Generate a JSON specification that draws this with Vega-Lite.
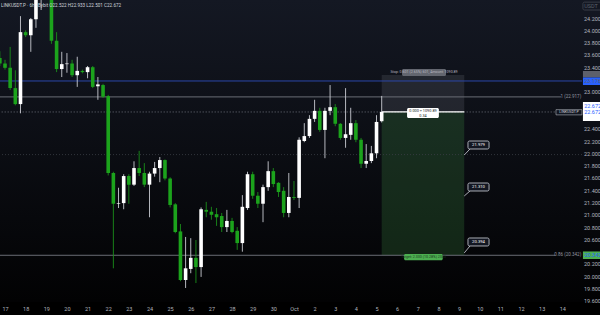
{
"$schema": "https://vega.github.io/schema/vega-lite/v6.json",
"width": 582, "height": 302,
"autosize": "none",
"padding": {"left": 0, "top": 0, "right": 18, "bottom": 13},
"background": "#000000",
"config": {"view": {"stroke": null}, "text": {"font": "Roboto"}, "axis": {"labelOverlap": false, "labelSeparation": 0}},
"datasets": {
"candles": [
{"t":"2025-09-16T18:00:00Z","o":23.55,"h":23.66,"l":23.42,"c":23.46},
{"t":"2025-09-17T00:00:00Z","o":23.46,"h":23.52,"l":23.36,"c":23.39},
{"t":"2025-09-17T06:00:00Z","o":23.39,"h":23.73,"l":23.03,"c":23.06},
{"t":"2025-09-17T12:00:00Z","o":23.06,"h":23.35,"l":22.78,"c":22.80},
{"t":"2025-09-17T18:00:00Z","o":22.80,"h":24.23,"l":22.65,"c":23.97},
{"t":"2025-09-18T00:00:00Z","o":23.97,"h":24.00,"l":23.89,"c":23.92},
{"t":"2025-09-18T06:00:00Z","o":23.92,"h":24.20,"l":23.65,"c":24.18},
{"t":"2025-09-18T12:00:00Z","o":24.18,"h":24.70,"l":24.04,"c":24.60},
{"t":"2025-09-18T18:00:00Z","o":24.60,"h":24.85,"l":24.33,"c":24.72},
{"t":"2025-09-19T00:00:00Z","o":24.72,"h":24.90,"l":24.55,"c":24.64},
{"t":"2025-09-19T06:00:00Z","o":24.64,"h":24.70,"l":23.78,"c":23.83},
{"t":"2025-09-19T12:00:00Z","o":23.83,"h":23.97,"l":23.32,"c":23.37},
{"t":"2025-09-19T18:00:00Z","o":23.37,"h":23.65,"l":23.24,"c":23.45},
{"t":"2025-09-20T00:00:00Z","o":23.45,"h":23.63,"l":23.31,"c":23.46},
{"t":"2025-09-20T06:00:00Z","o":23.46,"h":23.52,"l":23.24,"c":23.27},
{"t":"2025-09-20T12:00:00Z","o":23.27,"h":23.57,"l":23.08,"c":23.34},
{"t":"2025-09-20T18:00:00Z","o":23.34,"h":23.36,"l":23.30,"c":23.32},
{"t":"2025-09-21T00:00:00Z","o":23.32,"h":23.42,"l":23.22,"c":23.40},
{"t":"2025-09-21T06:00:00Z","o":23.40,"h":23.42,"l":23.06,"c":23.08},
{"t":"2025-09-21T12:00:00Z","o":23.09,"h":23.24,"l":22.87,"c":23.12},
{"t":"2025-09-21T18:00:00Z","o":23.11,"h":23.13,"l":22.90,"c":22.92},
{"t":"2025-09-22T00:00:00Z","o":22.93,"h":22.95,"l":21.64,"c":21.68},
{"t":"2025-09-22T06:00:00Z","o":21.68,"h":21.70,"l":20.13,"c":21.18},
{"t":"2025-09-22T12:00:00Z","o":21.18,"h":21.44,"l":21.11,"c":21.19},
{"t":"2025-09-22T18:00:00Z","o":21.19,"h":21.66,"l":21.09,"c":21.63},
{"t":"2025-09-23T00:00:00Z","o":21.63,"h":21.66,"l":21.18,"c":21.49},
{"t":"2025-09-23T06:00:00Z","o":21.49,"h":21.87,"l":21.47,"c":21.76},
{"t":"2025-09-23T12:00:00Z","o":21.76,"h":22.04,"l":21.63,"c":21.68},
{"t":"2025-09-23T18:00:00Z","o":21.68,"h":21.84,"l":21.45,"c":21.49},
{"t":"2025-09-24T00:00:00Z","o":21.49,"h":21.70,"l":20.96,"c":21.67},
{"t":"2025-09-24T06:00:00Z","o":21.67,"h":21.86,"l":21.62,"c":21.76},
{"t":"2025-09-24T12:00:00Z","o":21.76,"h":21.94,"l":21.53,"c":21.89},
{"t":"2025-09-24T18:00:00Z","o":21.89,"h":21.90,"l":21.56,"c":21.59},
{"t":"2025-09-25T00:00:00Z","o":21.59,"h":21.61,"l":21.12,"c":21.16},
{"t":"2025-09-25T06:00:00Z","o":21.17,"h":21.19,"l":20.70,"c":20.72},
{"t":"2025-09-25T12:00:00Z","o":20.73,"h":20.85,"l":19.92,"c":19.94},
{"t":"2025-09-25T18:00:00Z","o":19.94,"h":20.64,"l":19.81,"c":20.13},
{"t":"2025-09-26T00:00:00Z","o":20.12,"h":20.62,"l":20.05,"c":20.30},
{"t":"2025-09-26T06:00:00Z","o":20.30,"h":20.59,"l":19.89,"c":20.15},
{"t":"2025-09-26T12:00:00Z","o":20.15,"h":21.12,"l":19.99,"c":21.09},
{"t":"2025-09-26T18:00:00Z","o":21.08,"h":21.21,"l":20.96,"c":21.05},
{"t":"2025-09-27T00:00:00Z","o":21.05,"h":21.13,"l":20.92,"c":21.00},
{"t":"2025-09-27T06:00:00Z","o":21.01,"h":21.11,"l":20.82,"c":20.96},
{"t":"2025-09-27T12:00:00Z","o":20.98,"h":21.03,"l":20.72,"c":20.80},
{"t":"2025-09-27T18:00:00Z","o":20.80,"h":21.08,"l":20.72,"c":20.90},
{"t":"2025-09-28T00:00:00Z","o":20.90,"h":20.95,"l":20.70,"c":20.72},
{"t":"2025-09-28T06:00:00Z","o":20.74,"h":20.80,"l":20.43,"c":20.54},
{"t":"2025-09-28T12:00:00Z","o":20.54,"h":21.32,"l":20.40,"c":21.13},
{"t":"2025-09-28T18:00:00Z","o":21.11,"h":21.70,"l":21.08,"c":21.66},
{"t":"2025-09-29T00:00:00Z","o":21.66,"h":21.70,"l":21.26,"c":21.31},
{"t":"2025-09-29T06:00:00Z","o":21.31,"h":21.37,"l":21.11,"c":21.18},
{"t":"2025-09-29T12:00:00Z","o":21.18,"h":21.49,"l":20.88,"c":21.45},
{"t":"2025-09-29T18:00:00Z","o":21.45,"h":21.87,"l":21.39,"c":21.71},
{"t":"2025-09-30T00:00:00Z","o":21.71,"h":21.76,"l":21.45,"c":21.50},
{"t":"2025-09-30T06:00:00Z","o":21.52,"h":21.53,"l":21.29,"c":21.37},
{"t":"2025-09-30T12:00:00Z","o":21.39,"h":21.45,"l":20.96,"c":21.03},
{"t":"2025-09-30T18:00:00Z","o":21.03,"h":21.68,"l":20.96,"c":21.29},
{"t":"2025-10-01T00:00:00Z","o":21.29,"h":21.55,"l":21.24,"c":21.275},
{"t":"2025-10-01T06:00:00Z","o":21.275,"h":22.26,"l":21.11,"c":22.22},
{"t":"2025-10-01T12:00:00Z","o":22.20,"h":22.49,"l":22.18,"c":22.28},
{"t":"2025-10-01T18:00:00Z","o":22.28,"h":22.62,"l":22.25,"c":22.56},
{"t":"2025-10-02T00:00:00Z","o":22.56,"h":22.87,"l":22.51,"c":22.69},
{"t":"2025-10-02T06:00:00Z","o":22.69,"h":22.74,"l":22.35,"c":22.38},
{"t":"2025-10-02T12:00:00Z","o":22.38,"h":22.74,"l":21.92,"c":22.69},
{"t":"2025-10-02T18:00:00Z","o":22.69,"h":23.11,"l":22.62,"c":22.75},
{"t":"2025-10-03T00:00:00Z","o":22.75,"h":22.80,"l":22.44,"c":22.48},
{"t":"2025-10-03T06:00:00Z","o":22.48,"h":22.49,"l":22.22,"c":22.25},
{"t":"2025-10-03T12:00:00Z","o":22.25,"h":23.06,"l":22.09,"c":22.31},
{"t":"2025-10-03T18:00:00Z","o":22.30,"h":22.74,"l":22.22,"c":22.49},
{"t":"2025-10-04T00:00:00Z","o":22.49,"h":22.54,"l":22.18,"c":22.22},
{"t":"2025-10-04T06:00:00Z","o":22.22,"h":22.25,"l":21.76,"c":21.83},
{"t":"2025-10-04T12:00:00Z","o":21.83,"h":22.15,"l":21.76,"c":21.875},
{"t":"2025-10-04T18:00:00Z","o":21.875,"h":22.12,"l":21.84,"c":22.00},
{"t":"2025-10-05T00:00:00Z","o":22.00,"h":22.62,"l":21.92,"c":22.51},
{"t":"2025-10-05T06:00:00Z","o":22.522,"h":22.933,"l":22.501,"c":22.672}
]
},
"layer": [
{
"data": {"values": [{"t0": "2025-09-16T18:00:00Z", "t1": "2025-10-16T00:00:00Z", "p0": 24.4927, "p1": 19.5821}]},
"mark": {"type": "rect", "clip": false, "fill": {"gradient": "linear", "x1": 0, "y1": 0, "x2": 0, "y2": 1, "stops": [{"offset": 0, "color": "#141823"}, {"offset": 1, "color": "#020203"}]}},
"encoding": {
"x": {"field": "t0", "type": "temporal",
"scale": {"type": "utc", "nice": false, "padding": 0, "domain": [{"year": 2025, "month": 9, "date": 16, "hours": 18, "minutes": 11, "utc": true}, {"year": 2025, "month": 10, "date": 14, "hours": 22, "minutes": 55, "utc": true}]},
"axis": {"title": null, "ticks": false, "domain": false, "grid": false, "tickCount": 200, "labelFontSize": 5.5, "labelColor": "#b2b5be", "labelFont": "Roboto", "labelPadding": 6, "labelBaseline": "middle", "labelOverlap": false, "labelFlush": false,
"labelExpr": "utcdate(datum.value) == 1 ? 'Oct' : '' + utcdate(datum.value)",
"values": [
{"year":2025,"month":9,"date":17,"utc":true},{"year":2025,"month":9,"date":18,"utc":true},{"year":2025,"month":9,"date":19,"utc":true},{"year":2025,"month":9,"date":20,"utc":true},{"year":2025,"month":9,"date":21,"utc":true},{"year":2025,"month":9,"date":22,"utc":true},{"year":2025,"month":9,"date":23,"utc":true},{"year":2025,"month":9,"date":24,"utc":true},{"year":2025,"month":9,"date":25,"utc":true},{"year":2025,"month":9,"date":26,"utc":true},{"year":2025,"month":9,"date":27,"utc":true},{"year":2025,"month":9,"date":28,"utc":true},{"year":2025,"month":9,"date":29,"utc":true},{"year":2025,"month":9,"date":30,"utc":true},
{"year":2025,"month":10,"date":1,"utc":true},{"year":2025,"month":10,"date":2,"utc":true},{"year":2025,"month":10,"date":3,"utc":true},{"year":2025,"month":10,"date":4,"utc":true},{"year":2025,"month":10,"date":5,"utc":true},{"year":2025,"month":10,"date":6,"utc":true},{"year":2025,"month":10,"date":7,"utc":true},{"year":2025,"month":10,"date":8,"utc":true},{"year":2025,"month":10,"date":9,"utc":true},{"year":2025,"month":10,"date":10,"utc":true},{"year":2025,"month":10,"date":11,"utc":true},{"year":2025,"month":10,"date":12,"utc":true},{"year":2025,"month":10,"date":13,"utc":true},{"year":2025,"month":10,"date":14,"utc":true}
]}},
"x2": {"field": "t1"},
"y": {"field": "p0", "type": "quantitative",
"scale": {"domain": [19.5821, 24.4927], "nice": false, "zero": false, "padding": 0},
"axis": {"orient": "right", "title": null, "ticks": false, "domain": false, "grid": false, "zindex": 1, "tickCount": 200, "format": ".3f", "labelFontSize": 5.5, "labelColor": "#b2b5be", "labelFont": "Roboto", "labelAlign": "left", "labelBaseline": "middle", "labelPadding": 1.5, "labelOverlap": false, "labelFlush": false,
"values": [19.6, 19.8, 20.0, 20.2, 20.6, 20.8, 21.0, 21.2, 21.4, 21.6, 21.8, 22.0, 22.2, 22.4, 23.0, 23.4, 23.6, 23.8, 24.0, 24.2]}},
"y2": {"field": "p1"}
}
},
{
"data": {"values": [{"t0": "2025-10-05T06:00:00Z", "t1": "2025-10-09T06:00:00Z", "p0": 22.672, "p1": 23.273}]},
"mark": {"type": "rect", "fill": "#787b86", "opacity": 0.2},
"encoding": {"x": {"field": "t0", "type": "temporal"}, "x2": {"field": "t1"}, "y": {"field": "p0", "type": "quantitative"}, "y2": {"field": "p1"}}
},
{
"data": {"values": [{"t0": "2025-10-05T06:00:00Z", "t1": "2025-10-09T06:00:00Z", "p0": 20.342, "p1": 22.672}]},
"mark": {"type": "rect", "fill": "#4caf50", "opacity": 0.2},
"encoding": {"x": {"field": "t0", "type": "temporal"}, "x2": {"field": "t1"}, "y": {"field": "p0", "type": "quantitative"}, "y2": {"field": "p1"}}
},
{
"data": {"values": [{"p": 23.176}]},
"mark": {"type": "rule", "stroke": "#2b46a8", "strokeWidth": 1},
"encoding": {"y": {"field": "p", "type": "quantitative"}}
},
{
"data": {"values": [{"p": 22.672}]},
"mark": {"type": "rule", "stroke": "#5d6069", "strokeWidth": 0.8, "strokeDash": [1.5, 1.5]},
"encoding": {"y": {"field": "p", "type": "quantitative"}}
},
{
"data": {"values": [{"p": 21.979}]},
"mark": {"type": "rule", "stroke": "#3b3e46", "strokeWidth": 0.8, "strokeDash": [1, 2]},
"encoding": {"y": {"field": "p", "type": "quantitative"}}
},
{
"data": {"values": [{"t0": "2025-09-16T18:11:00Z", "t1": "2025-10-13T22:30:00Z", "p": 22.917}, {"t0": "2025-09-16T18:11:00Z", "t1": "2025-10-13T15:30:00Z", "p": 20.342}]},
"mark": {"type": "rule", "stroke": "#6a6d75", "strokeWidth": 1},
"encoding": {"x": {"field": "t0", "type": "temporal"}, "x2": {"field": "t1"}, "y": {"field": "p", "type": "quantitative"}}
},
{
"data": {"name": "candles"},
"mark": {"type": "rule", "clip": true, "strokeWidth": 0.9},
"encoding": {
"x": {"field": "t", "type": "temporal"},
"y": {"field": "l", "type": "quantitative"},
"y2": {"field": "h"},
"color": {"condition": {"test": "datum.c >= datum.o", "value": "#c9ccd2"}, "value": "#1b8f1b"}
}
},
{
"data": {"name": "candles"},
"mark": {"type": "bar", "clip": true, "size": 3.6},
"encoding": {
"x": {"field": "t", "type": "temporal"},
"y": {"field": "o", "type": "quantitative"},
"y2": {"field": "c"},
"color": {"condition": {"test": "datum.c >= datum.o", "value": "#ffffff"}, "value": "#1ca31c"}
}
},
{
"data": {"values": [{"t0": "2025-10-05T06:00:00Z", "t1": "2025-10-09T06:00:00Z", "p": 22.672}]},
"mark": {"type": "rule", "stroke": "#ffffff", "strokeWidth": 1.2},
"encoding": {"x": {"field": "t0", "type": "temporal"}, "x2": {"field": "t1"}, "y": {"field": "p", "type": "quantitative"}}
},
{
"data": {"values": [{"t0": "2025-10-06T11:30:00Z", "t1": "2025-10-08T00:30:00Z", "p0": 22.737, "p1": 22.574}]},
"mark": {"type": "rect", "fill": "#ffffff", "cornerRadius": 1.5},
"encoding": {"x": {"field": "t0", "type": "temporal"}, "x2": {"field": "t1"}, "y": {"field": "p0", "type": "quantitative"}, "y2": {"field": "p1"}}
},
{
"data": {"values": [{"t0": "2025-10-06T05:40:00Z", "t1": "2025-10-08T08:50:00Z", "p0": 23.371, "p1": 23.257}]},
"mark": {"type": "rect", "fill": "#63666f", "cornerRadius": 1.5},
"encoding": {"x": {"field": "t0", "type": "temporal"}, "x2": {"field": "t1"}, "y": {"field": "p0", "type": "quantitative"}, "y2": {"field": "p1"}}
},
{
"data": {"values": [{"t0": "2025-10-06T08:00:00Z", "t1": "2025-10-08T05:00:00Z", "p0": 20.363, "p1": 20.262}]},
"mark": {"type": "rect", "fill": "#4caf50", "cornerRadius": 1.5},
"encoding": {"x": {"field": "t0", "type": "temporal"}, "x2": {"field": "t1"}, "y": {"field": "p0", "type": "quantitative"}, "y2": {"field": "p1"}}
},
{
"data": {"values": [
{"t0": "2025-10-09T06:00:00Z", "t1": "2025-10-09T12:40:00Z", "p0": 21.972, "p1": 22.07},
{"t0": "2025-10-09T06:00:00Z", "t1": "2025-10-09T12:40:00Z", "p0": 21.306, "p1": 21.387},
{"t0": "2025-10-09T06:00:00Z", "t1": "2025-10-09T12:40:00Z", "p0": 20.38, "p1": 20.493}
]},
"mark": {"type": "rule", "stroke": "#d1d4dc", "strokeWidth": 0.8},
"encoding": {"x": {"field": "t0", "type": "temporal"}, "x2": {"field": "t1"}, "y": {"field": "p0", "type": "quantitative"}, "y2": {"field": "p1"}}
},
{
"data": {"values": [
{"t0": "2025-10-09T10:20:00Z", "t1": "2025-10-10T10:50:00Z", "p0": 22.2, "p1": 22.07},
{"t0": "2025-10-09T10:20:00Z", "t1": "2025-10-10T10:50:00Z", "p0": 21.517, "p1": 21.387},
{"t0": "2025-10-09T10:20:00Z", "t1": "2025-10-10T10:50:00Z", "p0": 20.623, "p1": 20.493}
]},
"mark": {"type": "rect", "fill": "#131722", "stroke": "#d1d4dc", "strokeWidth": 0.8, "cornerRadius": 1.5},
"encoding": {"x": {"field": "t0", "type": "temporal"}, "x2": {"field": "t1"}, "y": {"field": "p0", "type": "quantitative"}, "y2": {"field": "p1"}}
},
{
"data": {"values": [
{"t": "2025-10-09T22:35:00Z", "p": 22.135, "s": "21.979"},
{"t": "2025-10-09T22:35:00Z", "p": 21.452, "s": "21.310"},
{"t": "2025-10-09T22:35:00Z", "p": 20.558, "s": "20.394"}
]},
"mark": {"type": "text", "fontSize": 4.2, "fill": "#ffffff", "align": "center", "baseline": "middle"},
"encoding": {"x": {"field": "t", "type": "temporal"}, "y": {"field": "p", "type": "quantitative"}, "text": {"field": "s"}}
},
{
"data": {"values": [
{"t": "2025-10-07T06:00:00Z", "p": 22.69, "s": "0.000 ÷ 1090.89"},
{"t": "2025-10-07T06:00:00Z", "p": 22.612, "s": "0.34"}
]},
"mark": {"type": "text", "fontSize": 3.8, "fill": "#131722", "align": "center", "baseline": "middle"},
"encoding": {"x": {"field": "t", "type": "temporal"}, "y": {"field": "p", "type": "quantitative"}, "text": {"field": "s"}}
},
{
"data": {"values": [{"t": "2025-10-07T07:15:00Z", "p": 23.314, "s": "Stop: 0.601 (2.65%) 601, Amount: 1090.89"}]},
"mark": {"type": "text", "fontSize": 3.6, "fill": "#b8bac0", "align": "center", "baseline": "middle"},
"encoding": {"x": {"field": "t", "type": "temporal"}, "y": {"field": "p", "type": "quantitative"}, "text": {"field": "s"}}
},
{
"data": {"values": [{"t": "2025-10-07T06:30:00Z", "p": 20.312, "s": "Target: 2.330 (10.28%) 2330"}]},
"mark": {"type": "text", "fontSize": 3.6, "fill": "#1b3a1f", "align": "center", "baseline": "middle"},
"encoding": {"x": {"field": "t", "type": "temporal"}, "y": {"field": "p", "type": "quantitative"}, "text": {"field": "s"}}
},
{
"data": {"values": [{"t": "2025-10-14T22:00:00Z", "p": 22.917, "s": "1 (22.917)"}, {"t": "2025-10-14T22:00:00Z", "p": 20.342, "s": "0.86 (20.342)"}]},
"mark": {"type": "text", "fontSize": 4.5, "fill": "#9598a1", "align": "right", "baseline": "middle"},
"encoding": {"x": {"field": "t", "type": "temporal"}, "y": {"field": "p", "type": "quantitative"}, "text": {"field": "s"}}
},
{
"data": {"values": [{"t0": "2025-10-13T16:40:00Z", "t1": "2025-10-14T22:50:00Z", "p0": 22.71, "p1": 22.625}]},
"mark": {"type": "rect", "fill": "#131722", "stroke": "#b2b5be", "strokeWidth": 0.6},
"encoding": {"x": {"field": "t0", "type": "temporal"}, "x2": {"field": "t1"}, "y": {"field": "p0", "type": "quantitative"}, "y2": {"field": "p1"}}
},
{
"data": {"values": [{"t": "2025-10-14T07:45:00Z", "p": 22.667, "s": "LINKUSDT.P"}]},
"mark": {"type": "text", "fontSize": 3.6, "fill": "#d1d4dc", "align": "center", "baseline": "middle"},
"encoding": {"x": {"field": "t", "type": "temporal"}, "y": {"field": "p", "type": "quantitative"}, "text": {"field": "s"}}
},
{
"data": {"values": [
{"t0": "2025-10-15T00:00:00Z", "t1": "2025-10-16T00:00:00Z", "p0": 23.338, "p1": 23.233, "k": "gray"},
{"t0": "2025-10-15T00:00:00Z", "t1": "2025-10-16T00:00:00Z", "p0": 23.233, "p1": 23.111, "k": "blue"},
{"t0": "2025-10-15T00:00:00Z", "t1": "2025-10-16T00:00:00Z", "p0": 22.834, "p1": 22.525, "k": "white"},
{"t0": "2025-10-15T00:00:00Z", "t1": "2025-10-16T00:00:00Z", "p0": 20.404, "p1": 20.281, "k": "green"}
]},
"mark": {"type": "rect", "clip": false},
"encoding": {"x": {"field": "t0", "type": "temporal"}, "x2": {"field": "t1"}, "y": {"field": "p0", "type": "quantitative"}, "y2": {"field": "p1"},
"color": {"field": "k", "type": "nominal", "legend": null, "scale": {"domain": ["gray", "blue", "white", "green"], "range": ["#5d606b", "#2962ff", "#ffffff", "#4caf50"]}}}
},
{
"data": {"values": [{"t0": "2025-10-15T00:00:00Z", "t1": "2025-10-16T00:00:00Z", "p0": 24.458, "p1": 24.33}]},
"mark": {"type": "rect", "clip": false, "fill": "#131722", "stroke": "#434651", "strokeWidth": 0.8, "cornerRadius": 1.5},
"encoding": {"x": {"field": "t0", "type": "temporal"}, "x2": {"field": "t1"}, "y": {"field": "p0", "type": "quantitative"}, "y2": {"field": "p1"}}
},
{
"data": {"values": [
{"t": "2025-10-15T01:30:00Z", "p": 24.394, "s": "USDT", "k": "light"},
{"t": "2025-10-15T01:30:00Z", "p": 23.285, "s": "23.273", "k": "light"},
{"t": "2025-10-15T01:30:00Z", "p": 23.172, "s": "23.176", "k": "light"},
{"t": "2025-10-15T01:30:00Z", "p": 22.769, "s": "22.672", "k": "dark"},
{"t": "2025-10-15T01:30:00Z", "p": 22.672, "s": "22.672", "k": "dark"},
{"t": "2025-10-15T01:30:00Z", "p": 22.585, "s": "00:00", "k": "mid"},
{"t": "2025-10-15T01:30:00Z", "p": 20.342, "s": "20.342", "k": "dark"}
]},
"mark": {"type": "text", "clip": false, "fontSize": 5.5, "align": "left", "baseline": "middle"},
"encoding": {"x": {"field": "t", "type": "temporal"}, "y": {"field": "p", "type": "quantitative"}, "text": {"field": "s"},
"color": {"field": "k", "type": "nominal", "legend": null, "scale": {"domain": ["light", "dark", "mid"], "range": ["#e6e8ee", "#131722", "#787b86"]}}}
},
{
"data": {"values": [{"t": "2025-09-16T18:11:00Z", "p": 24.39, "s": "LINKUSDT.P · 6h · Bybit  O22.522  H22.933  L22.501  C22.672"}]},
"mark": {"type": "text", "fontSize": 4.6, "fill": "#d1d4dc", "align": "left", "baseline": "middle", "dx": 1},
"encoding": {"x": {"field": "t", "type": "temporal"}, "y": {"field": "p", "type": "quantitative"}, "text": {"field": "s"}}
}
]
}
